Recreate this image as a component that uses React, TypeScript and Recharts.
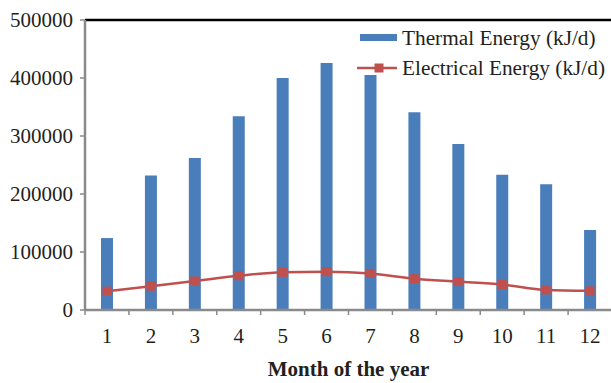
import React from "react";
import {
  ComposedChart,
  Bar,
  Line,
  XAxis,
  YAxis,
  Legend,
  ReferenceLine,
} from "recharts";

// Monthly energy output
const months = ["1", "2", "3", "4", "5", "6", "7", "8", "9", "10", "11", "12"];
const thermalEnergy = [124000, 232000, 262000, 334000, 400000, 426000, 405000, 341000, 286000, 233000, 217000, 138000];
const electricalEnergy = [32500, 41000, 50000, 59000, 65000, 66000, 63000, 54000, 49000, 44000, 34500, 33000];
const yTicks = [0, 100000, 200000, 300000, 400000, 500000];

const data = months.map((m, i) => ({
  month: m,
  thermal: thermalEnergy[i],
  electrical: electricalEnergy[i],
}));

const CHART_W = 612;
const CHART_H = 383;
const PLOT_LEFT = 85;
const PLOT_TOP = 20;
const X_AXIS_H = 73;
const BAND = (CHART_W - PLOT_LEFT) / months.length;

const FONT = "'Liberation Serif', 'Times New Roman', serif";
const TEXT = "#231f20";
const AXIS = "#8a8a8a";
const BLUE = "#4a7ebb";
const RED = "#c0504d";

// Category label at the band centre, tick mark at the band's left edge
const MonthTick = (props: any) => {
  const { x, y, payload } = props;
  return (
    <g>
      <line x1={x - BAND / 2} y1={y - 8} x2={x - BAND / 2} y2={y - 3} stroke={AXIS} strokeWidth={1.5} />
      <text x={x} y={y + 25} textAnchor="middle" fontFamily={FONT} fontSize={21} fill={TEXT}>
        {payload.value}
      </text>
    </g>
  );
};

const SquareDot = (props: any) => {
  const { cx, cy } = props;
  if (cx == null || cy == null) return null;
  return <rect x={cx - 4.5} y={cy - 4.5} width={9} height={9} fill={RED} />;
};

const LegendBox = () => (
  <svg width={260} height={60} style={{ overflow: "visible", display: "block" }}>
    <rect x={3} y={8} width={37} height={7} fill={BLUE} />
    <text x={45} y={18.5} fontFamily={FONT} fontSize={21.3} fill={TEXT}>
      Thermal Energy (kJ/d)
    </text>
    <line x1={0} y1={42} x2={40} y2={42} stroke={RED} strokeWidth={2.5} />
    <rect x={17.5} y={37.5} width={9} height={9} fill={RED} />
    <text x={45} y={48.5} fontFamily={FONT} fontSize={21.3} fill={TEXT}>
      Electrical Energy (kJ/d)
    </text>
  </svg>
);

export default function App() {
  return (
    <div style={{ position: "absolute", left: 0, top: 0, width: 611, height: 383, overflow: "hidden", background: "#fff" }}>
      <ComposedChart
        width={CHART_W}
        height={CHART_H}
        data={data}
        margin={{ top: PLOT_TOP, right: 0, bottom: 0, left: 0 }}
        barCategoryGap={0}
      >
        <XAxis
          dataKey="month"
          height={X_AXIS_H}
          axisLine={{ stroke: AXIS, strokeWidth: 2.5 }}
          tickLine={false}
          tick={<MonthTick />}
          interval={0}
          label={{
            value: "Month of the year",
            position: "insideBottom",
            offset: 7,
            fontFamily: FONT,
            fontSize: 21,
            fontWeight: "bold",
            fill: TEXT,
          }}
        />
        <YAxis
          width={PLOT_LEFT}
          domain={[0, 500000]}
          ticks={yTicks}
          interval={0}
          axisLine={{ stroke: AXIS, strokeWidth: 2.5 }}
          tickLine={{ stroke: AXIS, strokeWidth: 1.5 }}
          tickSize={5}
          tickMargin={7}
          tick={{ fontFamily: FONT, fontSize: 21, fill: TEXT }}
        />
        <ReferenceLine y={500000} stroke="#000" strokeWidth={2.5} />
        <Legend
          verticalAlign="middle"
          align="center"
          layout="horizontal"
          content={<LegendBox />}
          wrapperStyle={{ top: 26, left: 357, width: 260, height: 60 }}
        />
        <Bar dataKey="thermal" name="Thermal Energy (kJ/d)" fill={BLUE} barSize={12} isAnimationActive={false} />
        <Line
          dataKey="electrical"
          name="Electrical Energy (kJ/d)"
          type="monotone"
          stroke={RED}
          strokeWidth={2.5}
          dot={<SquareDot />}
          activeDot={false}
          isAnimationActive={false}
        />
      </ComposedChart>
    </div>
  );
}
